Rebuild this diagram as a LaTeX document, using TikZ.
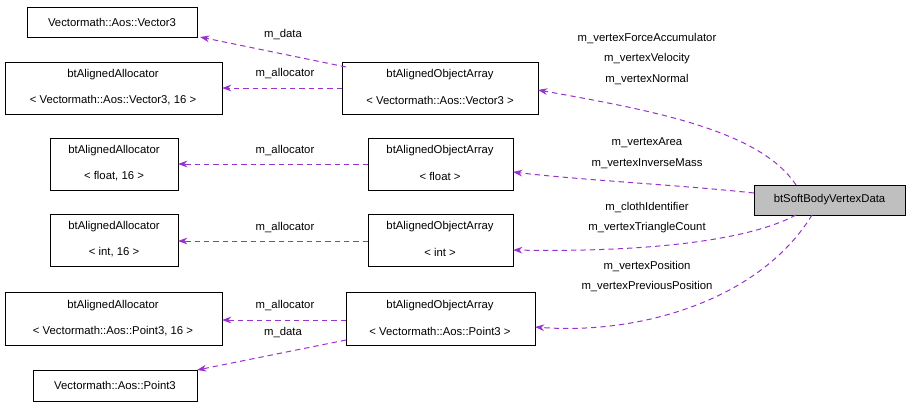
\documentclass[tikz,border=0pt]{standalone}
\usepackage{fontspec}
\setmainfont{Liberation Sans}
\usetikzlibrary{arrows.meta}
\definecolor{edgec}{RGB}{153,50,204}
\begin{document}
\begin{tikzpicture}[x=0.75pt,y=-0.75pt,
  box/.style={draw,line width=0.6pt,inner sep=0pt,font=\fontsize{8.5}{10}\selectfont,align=center},
  lab/.style={font=\fontsize{8.5}{10}\selectfont,inner sep=1pt},
  e/.style={draw=edgec,line width=0.75pt,dash pattern=on 4pt off 3pt,-{Stealth[length=7pt,width=5pt]},fill=none}]
\useasboundingbox (0,0) rectangle (909,408);
\newcommand{\bx}[6]{\node[box,minimum width={(#4-#2)*0.75pt},minimum height={(#5-#3)*0.75pt},#6] (#1) at ({(#2+#4)/2},{(#3+#5)/2}) {};}
\bx{v3}{27}{7}{197}{37}{} \node[lab] at (v3) {Vectormath::Aos::Vector3};
\bx{av3}{5}{62}{222}{114}{} \node[lab] at (113,75) {btAlignedAllocator}; \node[lab] at (113,100) {< Vectormath::Aos::Vector3, 16 >};
\bx{oav3}{342}{62}{538}{114}{} \node[lab] at (440,75) {btAlignedObjectArray}; \node[lab] at (440,100) {< Vectormath::Aos::Vector3 >};
\bx{af}{50}{138}{178}{190}{} \node[lab] at (114,151) {btAlignedAllocator}; \node[lab] at (114,176) {< float, 16 >};
\bx{oaf}{368}{138}{513}{190}{} \node[lab] at (440,151) {btAlignedObjectArray}; \node[lab] at (440,176) {< float >};
\bx{ai}{50}{214}{178}{266}{} \node[lab] at (114,227) {btAlignedAllocator}; \node[lab] at (114,252) {< int, 16 >};
\bx{oai}{368}{214}{513}{266}{} \node[lab] at (440,227) {btAlignedObjectArray}; \node[lab] at (440,252) {< int >};
\bx{ap3}{5}{292}{222}{345}{} \node[lab] at (113,306) {btAlignedAllocator}; \node[lab] at (113,331) {< Vectormath::Aos::Point3, 16 >};
\bx{oap3}{346}{292}{535}{345}{} \node[lab] at (440,306) {btAlignedObjectArray}; \node[lab] at (440,331) {< Vectormath::Aos::Point3 >};
\bx{p3}{33}{370}{197}{401}{} \node[lab] at (p3) {Vectormath::Aos::Point3};
\bx{sb}{754}{185}{905}{215}{fill={rgb,255:red,191;green,191;blue,191}} \node[lab] at (sb) {btSoftBodyVertexData};
\draw[e] (796,185) .. controls (760,130) and (650,110) .. (538,90);
\draw[e] (754,193) .. controls (680,185) and (580,180) .. (513,172);
\draw[e] (796,215) .. controls (740,245) and (620,252) .. (513,250);
\draw[e] (812,215) .. controls (760,300) and (640,335) .. (535,327);
\draw[e] (346,67) -- (200,37);
\draw[e] (342,88) -- (222,88);
\draw[e] (368,164) -- (178,164);
\draw[e] (368,241) -- (178,241);
\draw[e] (346,320) -- (222,320);
\draw[e] (346,340) -- (197,370);
\node[lab] at (647,39) {m\_vertexForceAccumulator};
\node[lab] at (647,59) {m\_vertexVelocity};
\node[lab] at (647,80) {m\_vertexNormal};
\node[lab] at (647,143) {m\_vertexArea};
\node[lab] at (647,164) {m\_vertexInverseMass};
\node[lab] at (647,208) {m\_clothIdentifier};
\node[lab] at (647,228) {m\_vertexTriangleCount};
\node[lab] at (647,267) {m\_vertexPosition};
\node[lab] at (647,287) {m\_vertexPreviousPosition};
\node[lab] at (283,35) {m\_data};
\node[lab] at (285,74) {m\_allocator};
\node[lab] at (285,151) {m\_allocator};
\node[lab] at (285,228) {m\_allocator};
\node[lab] at (285,306) {m\_allocator};
\node[lab] at (283,333) {m\_data};
\end{tikzpicture}
\end{document}
